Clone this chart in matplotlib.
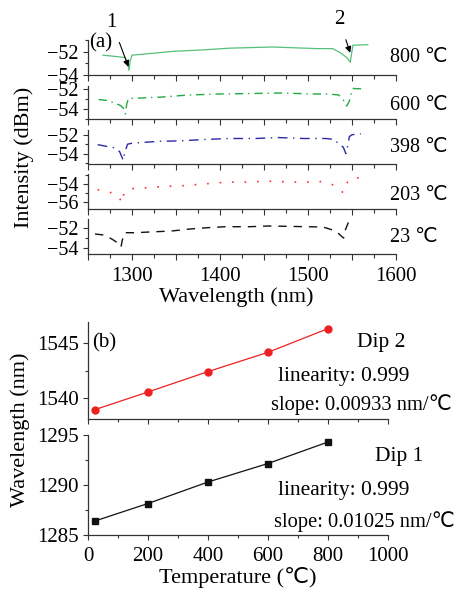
import numpy as np
import matplotlib
matplotlib.use("Agg")
import matplotlib.pyplot as plt
from matplotlib.ticker import MultipleLocator, FuncFormatter

plt.rcParams['font.family'] = ['Liberation Serif', 'DejaVu Sans', 'Noto Sans CJK SC']
plt.rcParams['axes.unicode_minus'] = True

# (a) spectra at each temperature
wl_800 = [1267, 1280, 1292, 1295, 1296.5, 1298, 1300, 1315, 1347, 1380, 1411, 1460,
          1511, 1528, 1537, 1544, 1548, 1549.5, 1551, 1568]
int_800 = [-52.3, -52.4, -52.5, -52.9, -53.6, -52.8, -52.3, -52.2, -51.97, -51.85, -51.7, -51.6,
           -51.74, -51.74, -52.1, -52.5, -52.9, -52.2, -51.45, -51.4]

wl_600 = [1262, 1272, 1280, 1287, 1291, 1292.5, 1294, 1296, 1310, 1335, 1364, 1400, 1435,
          1470, 1505, 1523, 1535, 1541, 1544, 1547, 1549, 1551, 1565]
int_600 = [-53.05, -53.15, -53.4, -53.65, -54.0, -54.5, -53.5, -52.95, -52.9, -52.8, -52.6, -52.5, -52.45,
           -52.4, -52.5, -52.5, -52.6, -53.2, -53.7, -53.2, -52.5, -51.95, -52.0]

wl_398 = [1261, 1272, 1281, 1286, 1290, 1292, 1295, 1300, 1330, 1355, 1383, 1410, 1440, 1466,
          1495, 1520, 1530, 1536, 1540, 1543, 1545, 1547, 1550, 1560]
int_398 = [-53.05, -53.25, -53.4, -53.8, -54.7, -53.8, -53.0, -52.9, -52.7, -52.65, -52.5, -52.4, -52.4, -52.3,
           -52.4, -52.4, -52.5, -53.1, -53.3, -54.0, -53.2, -52.2, -52.0, -51.9]

wl_203 = [1261, 1272, 1283, 1287, 1288.5, 1291, 1297, 1308, 1334, 1358, 1383, 1408, 1430, 1455,
          1480, 1504, 1515, 1526, 1535, 1540, 1542, 1545, 1548, 1560]
int_203 = [-54.65, -54.85, -55.2, -55.8, -56.15, -55.0, -54.55, -54.5, -54.3, -54.2, -54.0, -53.8, -53.8, -53.7,
           -53.8, -53.8, -53.75, -54.0, -54.5, -55.0, -54.3, -53.8, -53.4, -53.3]

wl_23 = [1258, 1268, 1277, 1284, 1287.5, 1289, 1292, 1303, 1320, 1345, 1366, 1386, 1406, 1434,
         1455, 1476, 1497, 1517, 1528, 1534, 1539, 1540.5, 1542, 1546, 1553]
int_23 = [-52.6, -52.7, -53.1, -53.5, -53.9, -53.2, -52.47, -52.47, -52.4, -52.3, -52.1, -51.97, -51.87, -51.87,
          -51.8, -51.83, -51.87, -51.9, -52.2, -52.5, -52.9, -53.0, -52.3, -51.4, -51.4]

temp_labels = ['800 ℃', '600 ℃', '398 ℃', '203 ℃', '23 ℃']

# (b) dip wavelength vs temperature
temps = [23, 200, 400, 600, 800]
dip2 = [1538.95, 1540.55, 1542.4, 1544.15, 1546.3]
dip1 = [1286.4, 1288.15, 1290.3, 1292.15, 1294.3]

W, H = 464, 591
fig = plt.figure(figsize=(W / 100, H / 100), dpi=100)


def rect(x0, y0, x1, y1):
    # pixel box (top-left origin) -> figure fraction
    return [x0 / W, 1 - y1 / H, (x1 - x0) / W, (y1 - y0) / H]


def fx(px):
    return px / W


def fy(py):
    return 1 - py / H


def style_ax(ax, size=15):
    for s in ['top', 'right']:
        ax.spines[s].set_visible(False)
    for s in ['left', 'bottom']:
        ax.spines[s].set_linewidth(0.9)
        ax.spines[s].set_color('#333333')
    ax.tick_params(which='major', direction='out', length=3.5, width=0.8, color='#333333',
                   labelsize=size, pad=3)
    ax.tick_params(which='minor', direction='out', length=2.2, width=0.8, color='#333333')


panels = [
    (wl_800, int_800, '#55c07a', '-', 0.9, (-54, -51), [-54, -52], 40, 75),
    (wl_600, int_600, '#22aa44', (0, (6, 3.5, 1, 3.5)), 1.0, (-55, -51.7), [-54, -52], 86, 119),
    (wl_398, int_398, '#2a2aa8', (0, (7, 4, 1, 4)), 1.0, (-55.1, -51.5), [-54, -52], 130, 164),
    (wl_203, int_203, '#ff3030', (0, (1, 6.5)), 1.2, (-56.8, -52.9), [-56, -54], 174, 209),
    (wl_23, int_23, '#111111', (0, (6, 5)), 1.0, (-54.6, -51.1), [-54, -52], 219, 254),
]
label_y = [58, 105, 147, 195, 237]

top_axes = []
for i, (wl, inten, c, ls, lw, ylim, yt, t, b) in enumerate(panels):
    ax = fig.add_axes(rect(88, t, 396, b))
    ax.plot(wl, inten, color=c, linestyle=ls, linewidth=lw)
    ax.set_xlim(1250, 1600)
    ax.set_ylim(*ylim)
    ax.set_yticks(yt)
    ax.yaxis.set_minor_locator(MultipleLocator(1))
    ax.xaxis.set_major_locator(MultipleLocator(50))
    ax.xaxis.set_minor_locator(MultipleLocator(25))
    style_ax(ax, 14.5)
    ax.tick_params(axis='x', which='major', length=4.5, labelsize=15)
    ax.tick_params(axis='x', which='minor', length=3)
    if i < 4:
        ax.tick_params(axis='x', labelbottom=False)
    else:
        ax.xaxis.set_major_formatter(FuncFormatter(
            lambda v, p: '%d' % v if (v % 100 == 0 and v >= 1300) else ''))
        ax.tick_params(axis='x', pad=5)
    fig.text(fx(390), fy(label_y[i]), temp_labels[i], fontsize=14.5, va='center', ha='left')
    top_axes.append(ax)

# dip markers in (a)
ax = top_axes[0]
ax.annotate('1', xy=(1296, -53.3), xytext=(-12, 32), textcoords='offset points',
            fontsize=15, ha='center', va='center', annotation_clip=False,
            arrowprops=dict(arrowstyle='-|>', color='black', lw=0.8, mutation_scale=9,
                            shrinkA=6, shrinkB=0))
ax.annotate('2', xy=(1548, -52.1), xytext=(-8, 24), textcoords='offset points',
            fontsize=15, ha='center', va='center', annotation_clip=False,
            arrowprops=dict(arrowstyle='-|>', color='black', lw=0.8, mutation_scale=9,
                            shrinkA=6, shrinkB=0))
fig.text(fx(89), fy(43), '(a)', fontsize=15, va='center', ha='left')
fig.text(fx(236), fy(297), 'Wavelength (nm)', fontsize=16, ha='center', va='center')
fig.text(fx(24), fy(157), 'Intensity (dBm)', fontsize=16, ha='center', va='center', rotation=90)

# (b)
axb1 = fig.add_axes(rect(88, 322, 388, 419))
axb1.plot(temps, dip2, color='#ee2020', linewidth=0.9, marker='o', markersize=5)
axb1.set_xlim(0, 1000)
axb1.set_ylim(1538.1, 1546.9)
axb1.yaxis.set_major_locator(MultipleLocator(5))
axb1.yaxis.set_minor_locator(MultipleLocator(2.5))
axb1.xaxis.set_major_locator(MultipleLocator(200))
axb1.xaxis.set_minor_locator(MultipleLocator(100))
style_ax(axb1)
axb1.tick_params(axis='x', labelbottom=False)

axb2 = fig.add_axes(rect(88, 435, 388, 535))
axb2.plot(temps, dip1, color='#111111', linewidth=0.9, marker='s', markersize=4.5)
axb2.set_xlim(0, 1000)
axb2.set_ylim(1285, 1295)
axb2.yaxis.set_major_locator(MultipleLocator(5))
axb2.yaxis.set_minor_locator(MultipleLocator(2.5))
axb2.xaxis.set_major_locator(MultipleLocator(200))
axb2.xaxis.set_minor_locator(MultipleLocator(100))
style_ax(axb2)
axb2.tick_params(axis='x', pad=5)

fig.text(fx(92), fy(343), '(b)', fontsize=15, va='center', ha='left')
fig.text(fx(357), fy(342), 'Dip 2', fontsize=15.5, va='center', ha='left')
fig.text(fx(278), fy(377), 'linearity: 0.999', fontsize=15.5, va='center', ha='left')
fig.text(fx(271), fy(405), 'slope: 0.00933 nm/℃', fontsize=14.8, va='center', ha='left')
fig.text(fx(375), fy(457), 'Dip 1', fontsize=15.5, va='center', ha='left')
fig.text(fx(278), fy(490), 'linearity: 0.999', fontsize=15.5, va='center', ha='left')
fig.text(fx(274), fy(522), 'slope: 0.01025 nm/℃', fontsize=14.8, va='center', ha='left')
fig.text(fx(238), fy(577), 'Temperature (℃)', fontsize=16, ha='center', va='center')
fig.text(fx(20), fy(430), 'Wavelength (nm)', fontsize=16, ha='center', va='center', rotation=90)

fig.savefig('out.png', dpi=100)
